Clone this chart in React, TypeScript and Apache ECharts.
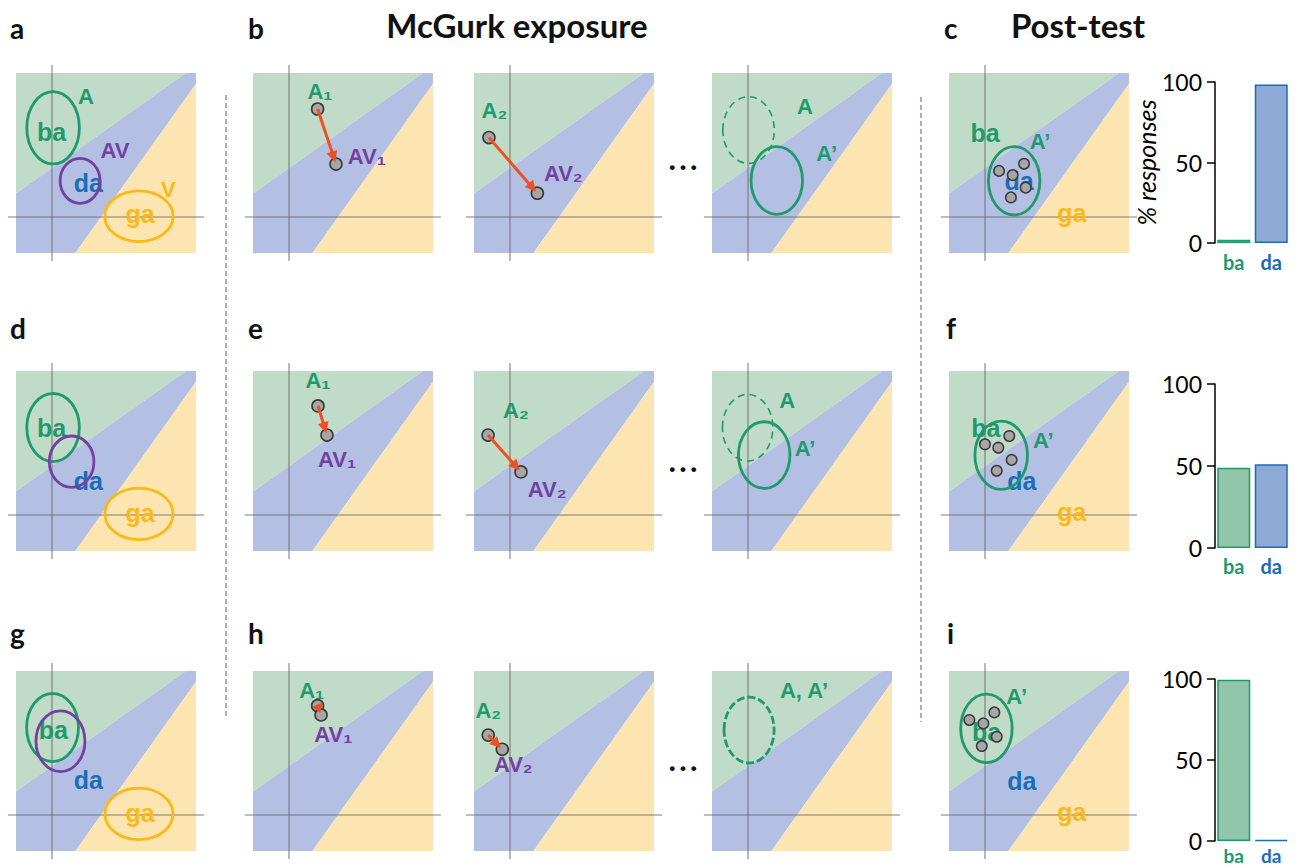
import { useEffect, useRef } from 'react';
import * as echarts from 'echarts';

// ---------- data ----------
const CATEGORIES = ['ba', 'da'];
const POST_TEST_C = [2, 98.5];
const POST_TEST_F = [49, 51];
const POST_TEST_I = [99.5, 0.6];

// perceptual space regions (0..100 on both dimensions)
const REGION_BA = [[0, 33], [0, 100], [94.5, 100]];
const REGION_DA = [[0, 0], [33, 0], [100, 94], [100, 100], [94.5, 100], [0, 33]];
const REGION_GA = [[33, 0], [100, 0], [100, 94]];
const CROSS_X = 20;
const CROSS_Y = 20;
const CROSS_SPAN = [-4.5, 104.5];

// ellipses: [kind, cx, cy, rx, ry]
const ELL_A = [['ba', 20.6, 69.6, 14.6, 20.1], ['av', 35.6, 40.1, 11.1, 12.5], ['ga', 68.3, 20.4, 19, 14.1]];
const ELL_D = [['ba', 20.6, 68.6, 14.6, 18.9], ['av', 30.9, 49.6, 12.4, 14.3], ['ga', 68.3, 20.6, 18.9, 14.3]];
const ELL_G = [['ba', 20.3, 68.6, 14.4, 18.9], ['av', 24.7, 61, 13.6, 16.9], ['ga', 68.3, 20.6, 18.9, 14.3]];
const ELL_B3 = [['prev', 20.3, 68.3, 14.3, 18.5], ['ba', 36, 40.3, 14.3, 18.8]];
const ELL_E3 = [['prev', 19.8, 68.5, 14, 18.5], ['ba', 29, 53.3, 14.3, 18.5]];
const ELL_H3 = [['same', 20.6, 67.2, 13.9, 18.3]];
const ELL_C = [['ba', 36.2, 40.1, 14.3, 19]];
const ELL_F = [['ba', 29, 53.2, 14.6, 19]];
const ELL_I = [['ba', 20.8, 68.1, 14.3, 19]];

// labels: [text, x, y]
const LAB_A = [['A', 38.9, 86.8], ['ba', 19.8, 67.4], ['AV', 55, 57.2], ['da', 40.2, 39.1], ['V', 84.6, 35.4], ['ga', 68.9, 21.7]];
const LAB_D = [['ba', 19.8, 68.2], ['da', 40.2, 39.1], ['ga', 68.9, 20.9]];
const LAB_G = [['ba', 20.7, 67.2], ['da', 40.2, 39.4], ['ga', 68.9, 20.9]];
const LAB_B1 = [['A₁', 37.2, 89.6], ['AV₁', 63.2, 53.5]];
const LAB_B2 = [['A₂', 11.3, 79.1], ['AV₂', 49.6, 44.3]];
const LAB_E1 = [['A₁', 36.1, 95], ['AV₁', 46.7, 50.6]];
const LAB_E2 = [['A₂', 23.3, 77.8], ['AV₂', 40.6, 34.4]];
const LAB_H1 = [['A₁', 32.6, 89.4], ['AV₁', 44.6, 65]];
const LAB_H2 = [['A₂', 7.9, 77.9], ['AV₂', 21.8, 47.8]];
const LAB_B3 = [['A', 51.7, 81.3], ['A’', 63.7, 55.4]];
const LAB_E3 = [['A', 41.8, 83.5], ['A’', 51.7, 57.1]];
const LAB_H3 = [['A, A’', 51.1, 89.4]];
const LAB_C = [['ba', 20, 66.5], ['A’', 50.6, 61.8], ['da', 38.9, 40], ['ga', 68.2, 22.1]];
const LAB_F = [['ba', 20.4, 68.2], ['A’', 52.4, 61.3], ['da', 40.4, 39.1], ['ga', 68.2, 21.8]];
const LAB_I = [['A’', 37.6, 86.1], ['ba', 20.9, 66.3], ['da', 40.4, 39.1], ['ga', 68.2, 21.8]];

// exposure shifts: [A, AV] points
const PTS_B1 = [[35.9, 80], [46.1, 49.4]];
const PTS_B2 = [[8.3, 64.1], [35.2, 33.2]];
const PTS_E1 = [[36.1, 80.6], [41.1, 64.4]];
const PTS_E2 = [[7.8, 64.4], [26.1, 43.9]];
const PTS_H1 = [[35.9, 80.7], [37.8, 75.6]];
const PTS_H2 = [[7.9, 64.4], [15.7, 56.5]];

// post-test auditory tokens
const DOTS_C = [[27.8, 45.6], [35.4, 43.3], [41.7, 49.6], [42.6, 36.3], [34.4, 30.9]];
const DOTS_F = [[20, 59.3], [27.4, 57.4], [33.5, 63.9], [34.8, 50.6], [26.5, 44.6]];
const DOTS_I = [[11.3, 72.8], [19.1, 70.9], [25.2, 77], [26.5, 63.5], [18.2, 58.3]];

// ---------- styles ----------
const GREEN = '#1e9a6c';
const BLUE = '#1b6db5';
const GOLD = '#fbb918';
const PURPLE = '#7241a1';
const RED = '#f04e23';
const REGION_FILLS = ['#c0dbc8', '#b3c0e3', '#fde5b2'];
const REGIONS = [REGION_BA, REGION_DA, REGION_GA];
const LABEL_FONT = '"Liberation Sans", Arial, sans-serif';
const CAL_FONT = 'Lato, "Open Sans", sans-serif';

function labelColor(t: string) {
  if (t.startsWith('AV')) return PURPLE;
  if (t.startsWith('A')) return GREEN;
  if (t === 'V' || t === 'ga') return GOLD;
  if (t === 'da') return BLUE;
  return GREEN;
}
function labelSize(t: string) {
  if (t === 'ba' || t === 'da' || t === 'ga') return 25;
  return 22;
}
function ellipseStyle(kind: string) {
  if (kind === 'av') return { stroke: PURPLE, lineWidth: 2.8, fill: 'none' };
  if (kind === 'ga') return { stroke: GOLD, lineWidth: 2.8, fill: 'none' };
  if (kind === 'prev') return { stroke: GREEN, lineWidth: 1.6, fill: 'none', lineDash: [7, 5] };
  if (kind === 'same') return { stroke: GREEN, lineWidth: 2.8, fill: 'none', lineDash: [8, 3] };
  return { stroke: GREEN, lineWidth: 2.8, fill: 'none' };
}

const SQUARE_LEFTS = [16, 253, 474, 712, 949];
const ROW_TOPS = [73, 371, 671];
const SIZE = 180;

type Spec = { ell?: any[]; lab?: any[]; pts?: number[][]; dots?: number[][] };

const ROWS: { panels: Spec[]; bars: number[]; barTop: number; barBottom: number; catMargin: number; catSize: number }[] = [
  {
    panels: [
      { ell: ELL_A, lab: LAB_A },
      { pts: PTS_B1, lab: LAB_B1 },
      { pts: PTS_B2, lab: LAB_B2 },
      { ell: ELL_B3, lab: LAB_B3 },
      { ell: ELL_C, lab: LAB_C, dots: DOTS_C },
    ],
    bars: POST_TEST_C, barTop: 82, barBottom: 243, catMargin: 9, catSize: 20,
  },
  {
    panels: [
      { ell: ELL_D, lab: LAB_D },
      { pts: PTS_E1, lab: LAB_E1 },
      { pts: PTS_E2, lab: LAB_E2 },
      { ell: ELL_E3, lab: LAB_E3 },
      { ell: ELL_F, lab: LAB_F, dots: DOTS_F },
    ],
    bars: POST_TEST_F, barTop: 384, barBottom: 548, catMargin: 8, catSize: 20,
  },
  {
    panels: [
      { ell: ELL_G, lab: LAB_G },
      { pts: PTS_H1, lab: LAB_H1 },
      { pts: PTS_H2, lab: LAB_H2 },
      { ell: ELL_H3, lab: LAB_H3 },
      { ell: ELL_I, lab: LAB_I, dots: DOTS_I },
    ],
    bars: POST_TEST_I, barTop: 679, barBottom: 841, catMargin: 5, catSize: 19,
  },
];

function buildOption() {
  const grid: any[] = [];
  const xAxis: any[] = [];
  const yAxis: any[] = [];
  const series: any[] = [];
  let gi = 0;

  ROWS.forEach((row, r) => {
    row.panels.forEach((spec, c) => {
      const idx = gi++;
      grid.push({ left: SQUARE_LEFTS[c], top: ROW_TOPS[r], width: SIZE, height: SIZE, outerBoundsMode: 'none' });
      xAxis.push({ type: 'value', gridIndex: idx, min: 0, max: 100, show: false });
      yAxis.push({ type: 'value', gridIndex: idx, min: 0, max: 100, show: false });
      const base = { xAxisIndex: idx, yAxisIndex: idx, silent: true };

      series.push({
        ...base, type: 'custom', z: 1,
        data: REGIONS.map((p) => [p[0][0], p[0][1]]),
        renderItem: (params: any, api: any) => ({
          type: 'polygon',
          shape: { points: REGIONS[params.dataIndex].map((p) => api.coord(p)) },
          style: { fill: REGION_FILLS[params.dataIndex] },
        }),
      });
      series.push({
        ...base, type: 'custom', z: 2,
        data: [[CROSS_X, CROSS_Y], [CROSS_X, CROSS_Y]],
        renderItem: (params: any, api: any) => {
          const vx = api.value(0), vy = api.value(1);
          const a = params.dataIndex === 0 ? api.coord([vx, CROSS_SPAN[0]]) : api.coord([CROSS_SPAN[0], vy]);
          const b = params.dataIndex === 0 ? api.coord([vx, CROSS_SPAN[1]]) : api.coord([CROSS_SPAN[1], vy]);
          return {
            type: 'line',
            shape: { x1: a[0], y1: a[1], x2: b[0], y2: b[1] },
            style: { stroke: 'rgba(110,110,110,0.6)', lineWidth: 1.6 },
          };
        },
      });
      if (spec.lab) {
        const lab = spec.lab;
        series.push({
          ...base, type: 'custom', z: 3,
          data: lab.map((l) => [l[1], l[2]]),
          renderItem: (params: any, api: any) => {
            const t = lab[params.dataIndex][0] as string;
            const p = api.coord([api.value(0), api.value(1)]);
            return {
              type: 'text', x: p[0], y: p[1],
              style: {
                text: t, fill: labelColor(t),
                font: `bold ${labelSize(t)}px ${LABEL_FONT}`,
                align: 'center', verticalAlign: 'middle', textAlign: 'center', textVerticalAlign: 'middle',
              },
            };
          },
        });
      }
      if (spec.ell) {
        const ell = spec.ell;
        series.push({
          ...base, type: 'custom', z: 4,
          data: ell.map((e) => [e[1], e[2], e[3], e[4]]),
          renderItem: (params: any, api: any) => {
            const p = api.coord([api.value(0), api.value(1)]);
            const s = api.size([api.value(2), api.value(3)]);
            return {
              type: 'ellipse',
              shape: { cx: p[0], cy: p[1], rx: s[0], ry: s[1] },
              style: ellipseStyle(ell[params.dataIndex][0]),
            };
          },
        });
      }
      if (spec.pts) {
        series.push({
          ...base, type: 'scatter', z: 5, symbol: 'circle', symbolSize: 12,
          data: spec.pts,
          itemStyle: { color: '#a6a6a6', borderColor: '#3a3a3a', borderWidth: 1.6, opacity: 1 },
        });
        series.push({
          ...base, type: 'custom', z: 6,
          data: [[spec.pts[0][0], spec.pts[0][1], spec.pts[1][0], spec.pts[1][1]]],
          renderItem: (params: any, api: any) => {
            const p1 = api.coord([api.value(0), api.value(1)]);
            const p2r = api.coord([api.value(2), api.value(3)]);
            const dx = p2r[0] - p1[0], dy = p2r[1] - p1[1];
            const L = Math.hypot(dx, dy);
            const ux = dx / L, uy = dy / L;
            const p2 = [p2r[0] - ux * 2, p2r[1] - uy * 2];
            const head = Math.min(11, L * 0.9);
            const hw = 5.5;
            const bx = p2[0] - ux * head, by = p2[1] - uy * head;
            const children: any[] = [];
            if (L > head + 2) {
              children.push({
                type: 'line',
                shape: { x1: p1[0], y1: p1[1], x2: bx + ux * 2, y2: by + uy * 2 },
                style: { stroke: RED, lineWidth: 3 },
              });
            }
            children.push({
              type: 'polygon',
              shape: { points: [p2, [bx - uy * hw, by + ux * hw], [bx + uy * hw, by - ux * hw]] },
              style: { fill: RED },
            });
            return { type: 'group', children };
          },
        });
      }
      if (spec.dots) {
        series.push({
          ...base, type: 'scatter', z: 5, symbol: 'circle', symbolSize: 10.5,
          data: spec.dots,
          itemStyle: { color: '#a6a6a6', borderColor: '#3a3a3a', borderWidth: 1.5, opacity: 1 },
        });
      }
    });

    // bar chart
    const bi = gi++;
    grid.push({ left: 1215, top: row.barTop, width: 75, height: row.barBottom - row.barTop, outerBoundsMode: 'none' });
    xAxis.push({
      type: 'category', gridIndex: bi, data: CATEGORIES,
      axisLine: { show: false }, axisTick: { show: false },
      axisLabel: {
        margin: row.catMargin, fontSize: row.catSize, fontWeight: 'bold', fontFamily: CAL_FONT,
        color: (v: string) => (v === 'ba' ? GREEN : BLUE),
      },
    });
    yAxis.push({
      type: 'value', gridIndex: bi, min: 0, max: 100, interval: 50,
      axisLine: { show: true, lineStyle: { color: '#000', width: 1.5 } },
      axisTick: { show: true, length: 8, lineStyle: { color: '#000', width: 1.5 } },
      splitLine: { show: false },
      axisLabel: { margin: 13, fontSize: 23, color: '#000', fontFamily: CAL_FONT },
      name: r === 0 ? '% responses' : '',
      nameLocation: 'middle', nameGap: 57, nameRotate: 90,
      nameTextStyle: { fontStyle: 'italic', fontSize: 25, color: '#000', fontFamily: CAL_FONT },
    });
    series.push({
      type: 'bar', xAxisIndex: bi, yAxisIndex: bi, barWidth: 33, silent: true,
      data: row.bars.map((v, i) => ({
        value: v,
        itemStyle: {
          color: i === 0 ? '#93c5aa' : '#8ea9d5',
          borderColor: i === 0 ? GREEN : BLUE,
          borderWidth: 1.5,
        },
      })),
    });
  });

  const letters: [string, number, number][] = [
    ['a', 10, 28], ['b', 248, 28], ['c', 944, 28],
    ['d', 10, 328], ['e', 248, 328], ['f', 946, 328],
    ['g', 10, 633], ['h', 248, 633], ['i', 947, 633],
  ];
  const graphic: any[] = [];
  letters.forEach(([t, x, y]) => {
    graphic.push({
      type: 'text', x, y,
      style: { text: t, font: `bold 28px ${CAL_FONT}`, fill: '#111', align: 'left', verticalAlign: 'middle', textAlign: 'left', textVerticalAlign: 'middle' },
    });
  });
  graphic.push({
    type: 'text', x: 517, y: 25,
    style: { text: 'McGurk exposure', font: `bold 33px ${CAL_FONT}`, fill: '#111', align: 'center', verticalAlign: 'middle', textAlign: 'center', textVerticalAlign: 'middle' },
  });
  graphic.push({
    type: 'text', x: 1078, y: 25,
    style: { text: 'Post-test', font: `bold 33px ${CAL_FONT}`, fill: '#111', align: 'center', verticalAlign: 'middle', textAlign: 'center', textVerticalAlign: 'middle' },
  });
  [[226, 95, 719], [921, 97, 722]].forEach(([x, y1, y2]) => {
    graphic.push({
      type: 'line', shape: { x1: x, y1, x2: x, y2 },
      style: { stroke: '#9d8fd2', lineWidth: 1.6, lineDash: [5, 3] },
    });
  });
  [167, 469, 768].forEach((y) => {
    graphic.push({
      type: 'text', x: 683, y,
      style: { text: '• • •', font: `bold 17px ${LABEL_FONT}`, fill: '#111', align: 'center', verticalAlign: 'middle', textAlign: 'center', textVerticalAlign: 'middle' },
    });
  });

  return { animation: false, backgroundColor: '#fff', grid, xAxis, yAxis, series, graphic };
}

export default function App() {
  const ref = useRef<HTMLDivElement>(null);
  useEffect(() => {
    document.body.style.margin = '0';
    document.body.style.overflow = 'hidden';
    const chart = echarts.init(ref.current!, undefined, { renderer: 'svg' });
    chart.setOption(buildOption() as any);
    return () => chart.dispose();
  }, []);
  return <div ref={ref} style={{ width: 1298, height: 868 }} />;
}
